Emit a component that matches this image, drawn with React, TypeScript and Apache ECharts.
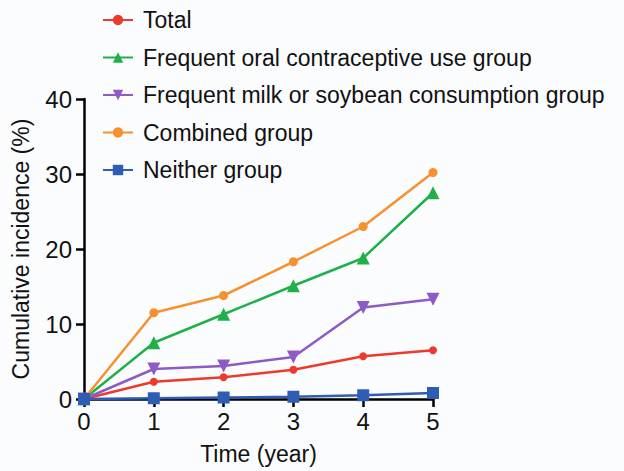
import React, { useEffect, useRef } from "react";
import * as echarts from "echarts";

const years = [0, 1, 2, 3, 4, 5];
const seriesNames = [
  "Total",
  "Frequent oral contraceptive use group",
  "Frequent milk or soybean consumption group",
  "Combined group",
  "Neither group",
];
const totalValues = [0, 2.3, 2.9, 3.9, 5.7, 6.5];
const oralValues = [0, 7.5, 11.3, 15.1, 18.8, 27.5];
const milkValues = [0, 4.0, 4.4, 5.6, 12.2, 13.3];
const combinedValues = [0, 11.5, 13.8, 18.3, 23.0, 30.2];
const neitherValues = [0, 0.1, 0.2, 0.3, 0.5, 0.8];
const yTicks = [0, 10, 20, 30, 40];

const colors = ["#ec3a2c", "#1fb04a", "#8d5ac6", "#f7912f", "#2f5db3"];
const symbols = ["circle", "triangle", "path://M0,0 L10,0 L5,9 Z", "circle", "rect"];
const symbolSizes = [8, 13, 13, 9, 12];
const allValues = [totalValues, oralValues, milkValues, combinedValues, neitherValues];

const FONT = "'Liberation Sans', Arial, Helvetica, sans-serif";

export default function App() {
  const ref = useRef<HTMLDivElement>(null);
  useEffect(() => {
    document.body.style.margin = "0";
    if (!ref.current) return;
    const chart = echarts.init(ref.current, null, { renderer: "svg" });
    chart.setOption({
      animation: false,
      backgroundColor: "#fbfcfe",
      textStyle: { fontFamily: FONT },
      legend: {
        orient: "vertical",
        left: 97,
        top: 3,
        itemWidth: 30,
        itemHeight: 13,
        itemGap: 13.5,
        data: seriesNames,
        textStyle: {
          fontSize: 23,
          color: "#111",
          fontFamily: FONT,
          lineHeight: 24,
          padding: [0, 0, 0, 5],
        },
      },
      grid: { left: 84, right: 191, top: 99, bottom: 72, containLabel: false },
      xAxis: {
        type: "value",
        min: 0,
        max: 5,
        interval: 1,
        name: "Time (year)",
        nameLocation: "middle",
        nameGap: 43,
        nameTextStyle: { fontSize: 23, color: "#111", fontFamily: FONT },
        axisLine: { show: true, lineStyle: { color: "#000", width: 2.5 } },
        axisTick: { show: true, length: 8, lineStyle: { color: "#000", width: 2.5 } },
        axisLabel: { fontSize: 24, color: "#111", margin: 10, fontFamily: FONT },
        splitLine: { show: false },
      },
      yAxis: {
        type: "value",
        min: yTicks[0],
        max: yTicks[yTicks.length - 1],
        interval: 10,
        name: "Cumulative incidence (%)",
        nameLocation: "middle",
        nameGap: 52,
        nameTextStyle: { fontSize: 23, color: "#111", fontFamily: FONT },
        axisLine: { show: true, lineStyle: { color: "#000", width: 2.5 } },
        axisTick: { show: true, length: 8, lineStyle: { color: "#000", width: 2.5 } },
        axisLabel: { fontSize: 24, color: "#111", margin: 12, fontFamily: FONT },
        splitLine: { show: false },
      },
      series: seriesNames.map((name, i) => ({
        name,
        type: "line",
        data: years.map((x, j) => [x, allValues[i][j]]),
        symbol: symbols[i],
        symbolSize: symbolSizes[i],
        showSymbol: true,
        lineStyle: { color: colors[i], width: 2.5 },
        itemStyle: { color: colors[i] },
        z: 2 + i,
      })),
    });
    return () => chart.dispose();
  }, []);
  return <div ref={ref} style={{ width: 624, height: 471 }} />;
}
